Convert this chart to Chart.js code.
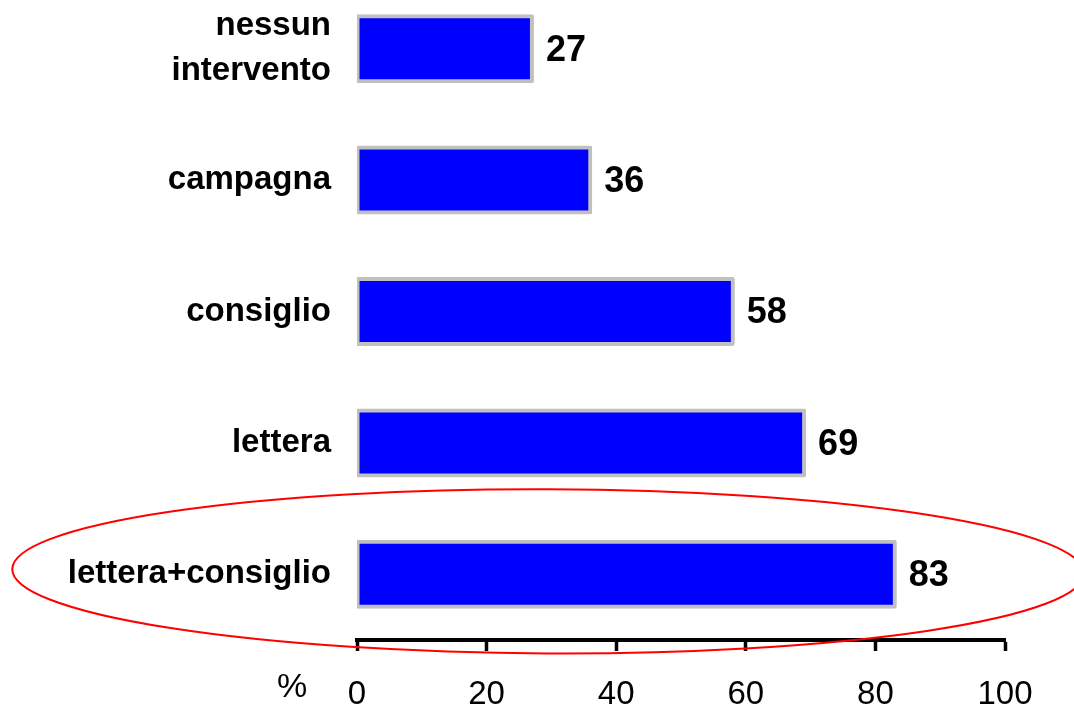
<!DOCTYPE html>
<html>
<head>
<meta charset="utf-8">
<script src="https://cdn.jsdelivr.net/npm/chart.js@4/dist/chart.umd.min.js"></script>
<style>
  html, body { margin: 0; padding: 0; background: #fff; overflow: hidden; }
  #wrap { position: relative; width: 1074px; height: 707px; overflow: hidden; }
  #chart { position: absolute; left: 0; top: -17px; }
</style>
</head>
<body>
<div id="wrap"><canvas id="chart" width="1074" height="724"></canvas></div>
<script>
// data
var categories = [["nessun", "intervento"], "campagna", "consiglio", "lettera", "lettera+consiglio"];
var values = [27, 36, 58, 69, 83];
var xTicks = [0, 20, 40, 60, 80, 100];
var unitLabel = "%";

// red ellipse round the last row (value units / row units)
var ringCenter = 29.5;
var ringHalfWidth = 82.7;
var ringHalfRows = 0.625;

var font = "'Liberation Sans', Arial, sans-serif";

// value labels + % + ellipse
var extras = {
    id: "extras",
    afterDatasetsDraw: function(chart){
        var ctx = chart.ctx;
        var meta = chart.getDatasetMeta(0);
        ctx.save();
        ctx.fillStyle = "#000";
        ctx.font = "bold 36px " + font;
        ctx.textAlign = "left";
        ctx.textBaseline = "middle";
        for(var i = 0; i < meta.data.length; i++){
            var bar = meta.data[i];
            ctx.fillText(String(values[i]), bar.x + 14, bar.y + 2);
        }
        ctx.restore();
    },
    afterDraw: function(chart){
        var ctx = chart.ctx;
        var x = chart.scales.x;
        var y = chart.scales.y;
        ctx.save();
        // % label left of the zero tick
        ctx.fillStyle = "#000";
        ctx.font = "34px " + font;
        ctx.textAlign = "center";
        ctx.textBaseline = "alphabetic";
        ctx.fillText(unitLabel, x.getPixelForValue(0) - 65, chart.height - 10);

        var last = categories.length - 1;
        var rowH = y.getPixelForValue(1) - y.getPixelForValue(0);
        var cx = x.getPixelForValue(ringCenter);
        var rx = x.getPixelForValue(ringCenter + ringHalfWidth) - cx;
        var cy = y.getPixelForValue(last) - 3;
        var ry = rowH * ringHalfRows;
        ctx.strokeStyle = "#ff0000";
        ctx.lineWidth = 2;
        ctx.beginPath();
        ctx.ellipse(cx, cy, rx, ry, 0.004, 0, Math.PI * 2);
        ctx.stroke();
        ctx.restore();
    }
};

var ctx = document.getElementById("chart");
var graph = new Chart(ctx, {
    type: "bar",
    data: {
        labels: categories,
        datasets: [{
            data: values,
            backgroundColor: "#0000ff",
            borderColor: "#c0c0c0",
            borderWidth: 4,
            borderSkipped: false,
            borderRadius: 2,
            inflateAmount: 2,
            barThickness: 65
        }]
    },
    options: {
        indexAxis: "y",
        responsive: false,
        animation: false,
        events: [],
        layout: { padding: { left: 0, right: 69, top: 0, bottom: 0 } },
        plugins: {
            legend: { display: false },
            tooltip: { enabled: false }
        },
        scales: {
            x: {
                min: 0,
                max: 100,
                afterBuildTicks: function(scale){
                    scale.ticks = xTicks.map(function(v){ return { value: v }; });
                },
                afterFit: function(scale){
                    scale.height = 67;
                    scale.paddingLeft = 0;
                    scale.paddingRight = 0;
                },
                border: { display: true, color: "#000", width: 4 },
                grid: {
                    drawOnChartArea: false,
                    drawTicks: true,
                    tickLength: 11,
                    tickWidth: 3.5,
                    tickColor: "#000"
                },
                ticks: {
                    color: "#000",
                    padding: 24,
                    maxRotation: 0,
                    font: { family: font, size: 33 }
                }
            },
            y: {
                afterFit: function(scale){
                    scale.width = 357;
                    scale.paddingTop = 0;
                    scale.paddingBottom = 0;
                },
                border: { display: false },
                grid: { display: false, drawTicks: false },
                ticks: {
                    color: "#000",
                    padding: 26,
                    font: { family: font, size: 33, weight: "bold", lineHeight: 1.36 }
                }
            }
        }
    },
    plugins: [extras]
});
</script>
</body>
</html>
